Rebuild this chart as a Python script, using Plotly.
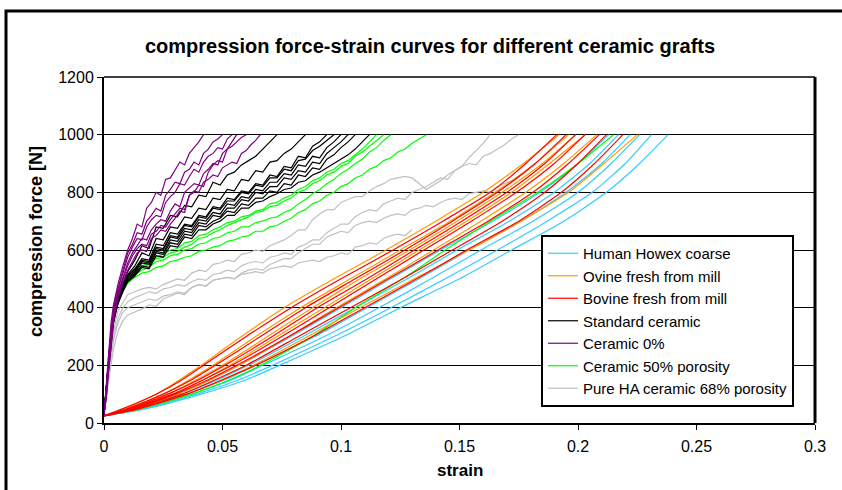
import plotly.graph_objects as go

# ---------------- data ----------------
# tissue curves: common force grid, strain read per curve
tissue_force = [25, 50, 100, 150, 200, 300, 400, 500, 600, 700, 800, 900, 1000]

human_strain = [
    [0, 0.013, 0.031, 0.045, 0.057, 0.079, 0.100, 0.121, 0.142, 0.164, 0.184, 0.200, 0.213],
    [0, 0.014, 0.033, 0.048, 0.061, 0.084, 0.106, 0.128, 0.149, 0.171, 0.190, 0.205, 0.217],
    [0, 0.015, 0.035, 0.051, 0.064, 0.089, 0.111, 0.133, 0.154, 0.176, 0.195, 0.210, 0.222],
    [0, 0.016, 0.037, 0.054, 0.067, 0.093, 0.116, 0.138, 0.159, 0.181, 0.200, 0.214, 0.226],
    [0, 0.017, 0.039, 0.057, 0.071, 0.097, 0.121, 0.144, 0.166, 0.187, 0.206, 0.220, 0.231],
    [0, 0.018, 0.041, 0.060, 0.074, 0.101, 0.125, 0.150, 0.172, 0.194, 0.212, 0.226, 0.238],
]
ovine_strain = [
    [0, 0.009, 0.022, 0.032, 0.041, 0.058, 0.076, 0.097, 0.119, 0.140, 0.160, 0.177, 0.192],
    [0, 0.010, 0.025, 0.036, 0.046, 0.064, 0.083, 0.104, 0.125, 0.146, 0.165, 0.182, 0.196],
    [0, 0.011, 0.027, 0.039, 0.050, 0.069, 0.088, 0.108, 0.129, 0.149, 0.168, 0.185, 0.199],
    [0, 0.012, 0.029, 0.042, 0.053, 0.073, 0.093, 0.113, 0.133, 0.153, 0.172, 0.188, 0.203],
    [0, 0.013, 0.031, 0.045, 0.057, 0.078, 0.098, 0.119, 0.139, 0.159, 0.178, 0.194, 0.208],
    [0, 0.015, 0.035, 0.050, 0.063, 0.086, 0.108, 0.131, 0.154, 0.176, 0.196, 0.211, 0.225],
]
bovine_strain = [
    [0, 0.008, 0.022, 0.033, 0.042, 0.060, 0.079, 0.100, 0.122, 0.143, 0.163, 0.178, 0.191],
    [0, 0.010, 0.025, 0.037, 0.047, 0.066, 0.085, 0.106, 0.127, 0.147, 0.166, 0.182, 0.195],
    [0, 0.011, 0.027, 0.040, 0.051, 0.071, 0.090, 0.111, 0.131, 0.151, 0.170, 0.186, 0.199],
    [0, 0.012, 0.029, 0.042, 0.054, 0.075, 0.095, 0.115, 0.135, 0.155, 0.174, 0.190, 0.203],
    [0, 0.013, 0.030, 0.044, 0.056, 0.078, 0.099, 0.120, 0.141, 0.162, 0.181, 0.196, 0.209],
    [0, 0.014, 0.033, 0.047, 0.060, 0.082, 0.104, 0.126, 0.147, 0.168, 0.186, 0.200, 0.212],
    [0, 0.015, 0.035, 0.050, 0.064, 0.088, 0.110, 0.132, 0.153, 0.175, 0.193, 0.207, 0.219],
]
green_tissue_strain = [0, 0.016, 0.037, 0.053, 0.066, 0.088, 0.106, 0.126, 0.144, 0.163, 0.183, 0.200, 0.215]

# ceramic curves: common strain grids, force read per curve (ends at 1000 N)
purple_grid = [0, .001, .002, .003, .004, .005, .006, .008, .010, .012, .014, .016, .018,
               .020, .022, .024, .026, .028, .030, .032, .034, .036, .038, .040, .042,
               .044, .046, .048, .050, .052, .054, .056, .058, .060, .062, .064, .066]
purple_force = [
    [30, 140, 260, 350, 410, 450, 485, 545, 600, 640, 690, 680, 745, 765, 800, 790, 845, 850,
     880, 905, 895, 935, 955, 975, 1000],
    [30, 120, 240, 330, 395, 440, 470, 530, 590, 620, 660, 655, 700, 720, 745, 735, 790, 810,
     835, 830, 870, 880, 905, 895, 935, 950, 975, 985, 1000],
    [30, 110, 225, 320, 385, 430, 465, 520, 575, 610, 640, 635, 680, 705, 720, 715, 765, 785,
     800, 830, 825, 855, 880, 870, 905, 925, 935, 955, 950, 985, 1000],
    [30, 100, 210, 305, 375, 420, 455, 505, 555, 590, 615, 640, 635, 670, 690, 705, 700, 735,
     760, 750, 800, 815, 830, 825, 865, 880, 900, 895, 935, 950, 960, 975, 990, 1000],
    [30, 95, 200, 295, 365, 410, 445, 500, 545, 580, 605, 620, 615, 655, 665, 685, 680, 705,
     725, 745, 740, 790, 805, 800, 835, 845, 860, 855, 885, 895, 905, 900, 935, 945, 965, 980, 1000],
    [30, 90, 185, 280, 350, 400, 435, 490, 530, 560, 590, 600, 595, 640, 650, 670, 665, 690,
     710, 735, 730, 790, 800, 825, 820, 870, 895, 910, 905, 950, 975, 1000],
]

ceramic_grid = [0, .001, .002, .003, .004, .005, .006, .008, .010, .013, .016, .019, .022,
                .025, .028, .031, .034, .037, .040, .043, .046, .049, .052, .055, .058, .061,
                .064, .067, .070, .073, .076, .079, .082, .085, .088, .091, .094, .097, .100,
                .103, .106, .109, .112, .115, .118, .121, .124, .127, .130, .133, .136, .139,
                .142, .145, .148, .151, .154, .157, .160, .163, .166, .169, .172, .175]
standard_force = [
    [30, 130, 240, 320, 375, 415, 445, 490, 525, 565, 615, 605, 680, 675, 720, 715, 755, 750,
     790, 785, 835, 825, 860, 870, 895, 910, 925, 950, 975, 1000],
    [30, 125, 230, 315, 370, 410, 440, 480, 515, 545, 590, 580, 640, 635, 680, 675, 715, 710,
     745, 740, 780, 775, 810, 805, 845, 840, 875, 870, 905, 910, 935, 950, 975, 1000],
    [30, 120, 225, 310, 365, 405, 435, 475, 510, 535, 570, 565, 620, 615, 660, 655, 690, 685,
     720, 715, 750, 745, 780, 775, 805, 800, 830, 825, 860, 855, 890, 885, 925, 920, 960, 975, 1000],
    [30, 120, 220, 305, 360, 400, 430, 470, 505, 525, 560, 555, 605, 600, 645, 640, 675, 670,
     705, 700, 730, 725, 760, 755, 785, 780, 810, 805, 835, 835, 865, 860, 895, 890, 925, 920,
     955, 975, 1000],
    [30, 115, 215, 300, 355, 395, 425, 465, 500, 520, 555, 550, 595, 590, 635, 630, 665, 660,
     695, 690, 720, 715, 745, 745, 775, 770, 800, 795, 820, 820, 850, 845, 875, 870, 905, 900,
     935, 955, 975, 1000],
    [30, 115, 210, 295, 350, 390, 420, 460, 495, 515, 545, 540, 590, 585, 625, 620, 655, 650,
     685, 680, 700, 710, 735, 730, 760, 755, 780, 780, 805, 800, 830, 825, 860, 855, 885, 880,
     915, 930, 955, 975, 1000],
    [30, 110, 205, 290, 345, 385, 415, 455, 490, 510, 540, 535, 580, 575, 615, 610, 645, 640,
     670, 670, 690, 700, 720, 720, 745, 745, 765, 770, 785, 795, 810, 815, 835, 840, 860, 870,
     885, 900, 915, 930, 950, 975, 1000],
    [30, 125, 230, 310, 365, 405, 435, 475, 510, 530, 565, 560, 610, 605, 650, 645, 685, 680,
     715, 710, 745, 740, 770, 770, 800, 795, 825, 820, 850, 850, 880, 875, 910, 915, 945, 960,
     980, 1000],
]
porous50_force = [
    [30, 125, 230, 310, 365, 405, 435, 470, 495, 520, 540, 550, 570, 575, 590, 595, 610, 620,
     640, 645, 660, 670, 685, 695, 705, 715, 730, 735, 750, 755, 770, 780, 800, 810, 830, 840,
     860, 870, 890, 900, 925, 940, 960, 980, 1000],
    [30, 120, 225, 305, 360, 400, 430, 465, 490, 515, 530, 540, 560, 565, 580, 585, 600, 605,
     620, 625, 640, 645, 660, 665, 680, 680, 695, 700, 710, 715, 730, 740, 760, 775, 795, 810,
     830, 845, 865, 880, 900, 915, 940, 955, 980, 1000],
    [30, 120, 220, 300, 355, 395, 425, 460, 485, 505, 520, 525, 540, 545, 560, 565, 575, 580,
     595, 600, 610, 615, 630, 635, 645, 650, 665, 665, 680, 685, 700, 710, 730, 740, 760, 770,
     790, 800, 820, 830, 850, 860, 880, 890, 910, 920, 940, 950, 970, 985, 1000],
    [30, 130, 235, 315, 370, 410, 440, 475, 500, 525, 545, 555, 575, 585, 600, 605, 625, 630,
     650, 655, 670, 680, 695, 700, 715, 720, 735, 740, 760, 765, 780, 790, 810, 820, 840, 850,
     870, 880, 900, 910, 930, 950, 975, 1000],
]
pureha_force = [
    [30, 100, 190, 265, 320, 360, 390, 420, 445, 455, 465, 470, 465, 480, 490, 500, 495, 520,
     530, 525, 550, 555, 565, 560, 585, 590, 600, 595, 615, 625, 635, 650, 670, 670, 705, 725,
     740, 740, 765, 775, 785, 785, 805, 820, 830, 845, 850, 855, 850, 830, 810, 825, 840, 860,
     875, 890, 920, 945, 970, 1000],
    [30, 95, 180, 250, 300, 335, 365, 400, 420, 435, 445, 455, 450, 465, 470, 480, 475, 490,
     500, 495, 515, 520, 530, 525, 545, 555, 560, 555, 575, 580, 590, 585, 610, 620, 635, 635,
     660, 675, 690, 690, 715, 730, 740, 735, 760, 770, 780, 775, 800, 810, 820, 835, 850, 845,
     875, 890, 900, 895, 925, 935, 950, 965, 985, 1000],
    [30, 90, 170, 235, 285, 320, 350, 385, 400, 410, 420, 430, 425, 440, 445, 455, 450, 470,
     480, 475, 495, 500, 505, 500, 520, 530, 535, 530, 550, 560, 570, 570, 590, 605, 620, 620,
     645, 655, 665, 660, 685, 695, 700, 695, 710, 720, 725, 720, 740, 745, 755, 750, 765, 775,
     780, 775, 795, 800, 805, 800, 820, 830, 840],
    [30, 80, 150, 210, 255, 290, 320, 355, 375, 385, 395, 410, 405, 430, 440, 450, 445, 470,
     480, 475, 495, 500, 505, 500, 515, 520, 525, 520, 535, 540, 545, 540, 555, 560, 565, 560,
     575, 580, 590, 585, 610, 615, 625, 620, 640, 650, 655, 650, 670],
]

group_names = ["Human Howex coarse", "Ovine fresh from mill", "Bovine fresh from mill",
               "Standard ceramic", "Ceramic 0%", "Ceramic 50% porosity",
               "Pure HA ceramic 68% porosity"]
group_colors = ["#33CCFF", "#FF9900", "#FF0000", "#000000", "#800080", "#00FF00", "#C0C0C0"]

# ---------------- figure ----------------
fig = go.Figure()
LW = 1.2


def add(x, y, name, color, smooth=False):
    fig.add_trace(go.Scatter(
        x=x, y=y, mode="lines", name=name, legendgroup=name, showlegend=False,
        line=dict(color=color, width=LW, shape="spline" if smooth else "linear",
                  smoothing=0.6),
        hoverinfo="skip"))


for f in pureha_force:
    add(ceramic_grid[:len(f)], f, group_names[6], group_colors[6])
for f in porous50_force:
    add(ceramic_grid[:len(f)], f, group_names[5], group_colors[5])
for f in standard_force:
    add(ceramic_grid[:len(f)], f, group_names[3], group_colors[3])
for f in purple_force:
    add(purple_grid[:len(f)], f, group_names[4], group_colors[4])
for s in human_strain:
    add(s, tissue_force, group_names[0], group_colors[0], True)
add(green_tissue_strain, tissue_force, group_names[5], group_colors[5], True)
for s in ovine_strain:
    add(s, tissue_force, group_names[1], group_colors[1], True)
for s in bovine_strain:
    add(s, tissue_force, group_names[2], group_colors[2], True)

# legend entries in reference order
for n, c in zip(group_names, group_colors):
    fig.add_trace(go.Scatter(x=[None], y=[None], mode="lines", name=n, legendgroup=n,
                             showlegend=True, line=dict(color=c, width=LW)))

L, R, T, B = 104, 27, 77, 67
W, H = 842, 490
pw, ph = W - L - R, H - T - B

fig.update_layout(
    width=W, height=H,
    margin=dict(l=L, r=R, t=T, b=B),
    paper_bgcolor="white", plot_bgcolor="white",
    font=dict(family="Liberation Sans, Arial, sans-serif", color="black", size=16),
    title=dict(text="<b>compression force-strain curves for different ceramic grafts</b>",
               x=430 / W, xanchor="center", y=1 - 46 / H, yanchor="middle",
               font=dict(size=20, family="Liberation Sans, Arial, sans-serif")),
    showlegend=True,
    legend=dict(x=(541 - L) / pw, xanchor="left", y=(423 - 235) / ph, yanchor="top",
                bgcolor="white", bordercolor="black", borderwidth=2,
                font=dict(size=15), tracegroupgap=0, itemwidth=30),
)
fig.update_xaxes(range=[0, 0.3], dtick=0.05, tick0=0, showgrid=False, zeroline=False,
                 showline=True, linecolor="black", linewidth=2, ticks="outside",
                 ticklen=5, tickcolor="black", tickwidth=1, tickfont=dict(size=16),
                 ticklabelstandoff=3)
fig.update_yaxes(range=[0, 1200], dtick=200, tick0=0, showgrid=True, gridcolor="black",
                 gridwidth=1, zeroline=False, showline=True, linecolor="black", linewidth=2,
                 ticks="outside", ticklen=5, tickcolor="black", tickwidth=1,
                 tickfont=dict(size=16))

# plot-area frame (top grey, right black) and outer chart border
fig.add_shape(type="line", xref="paper", yref="paper", x0=0, x1=1, y0=1, y1=1,
              line=dict(color="#404040", width=2))
fig.add_shape(type="line", xref="paper", yref="paper", x0=1, x1=1, y0=0, y1=1,
              line=dict(color="black", width=3))
fig.add_shape(type="rect", xref="paper", yref="paper",
              x0=(6 - L) / pw, x1=(870 - L) / pw, y0=(423 - 520) / ph, y1=(423 - 11) / ph,
              line=dict(color="black", width=3), fillcolor="rgba(0,0,0,0)")

fig.add_annotation(text="<b>strain</b>", xref="paper", yref="paper",
                   x=(460 - L) / pw, y=(423 - 470) / ph, showarrow=False,
                   font=dict(size=17), xanchor="center", yanchor="middle")
fig.add_annotation(text="<b>compression force [N]</b>", xref="paper", yref="paper",
                   x=(36 - L) / pw, y=(423 - 242) / ph, showarrow=False, textangle=-90,
                   font=dict(size=18), xanchor="center", yanchor="middle")

fig.write_html("out.html", config={"displayModeBar": False},
               post_script="document.body.style.margin='0';")
